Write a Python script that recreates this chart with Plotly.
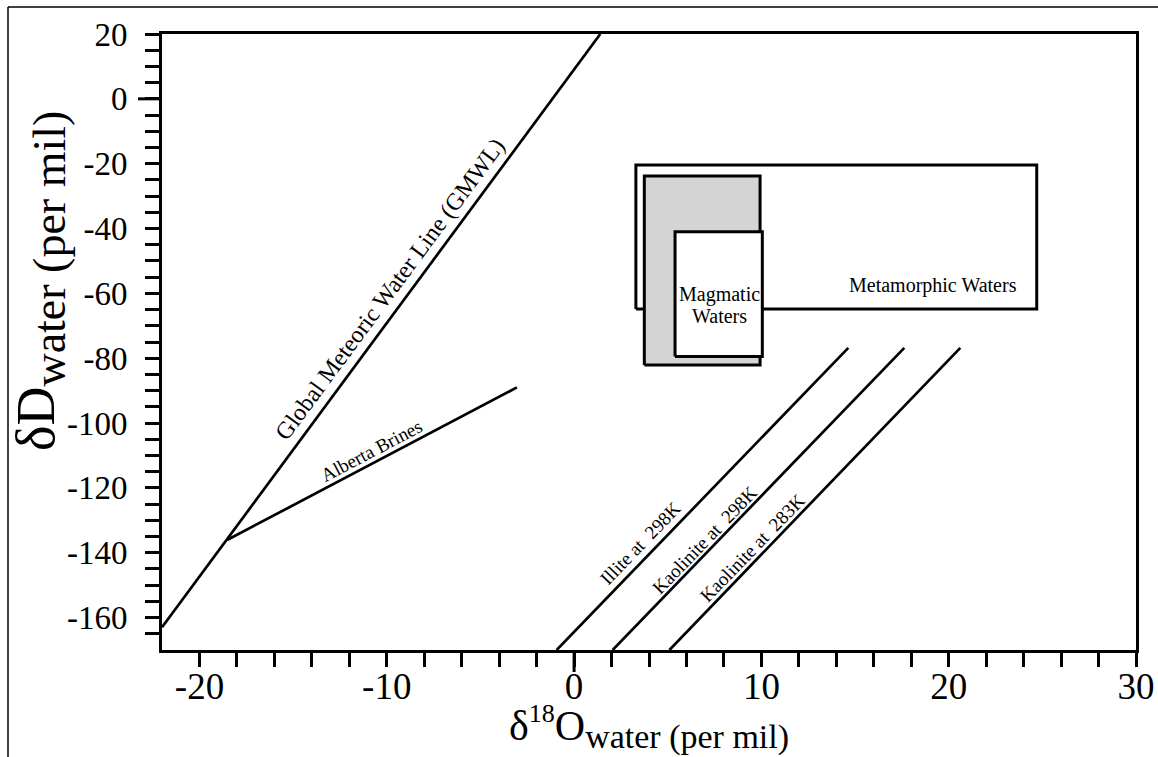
import plotly.graph_objects as go

FONT = "Liberation Serif"

# ---- data (per mil) ----
gmwl_x = [-22.0, 1.4]
gmwl_y = [-163.0, 20.0]
alberta_x = [-18.5, -3.05]
alberta_y = [-136.0, -89.0]
illite_x = [-0.93, 14.64]
illite_y = [-170.0, -76.8]
kaol298_x = [2.06, 17.63]
kaol298_y = [-170.0, -76.8]
kaol283_x = [5.09, 20.62]
kaol283_y = [-170.0, -76.8]

metamorphic_x = [3.3, 24.7]
metamorphic_y = [-64.8, -20.4]
magmatic_outer_x = [3.75, 9.93]
magmatic_outer_y = [-82.1, -23.8]
magmatic_inner_x = [5.39, 10.05]
magmatic_inner_y = [-79.5, -41.0]

x_ticks = [-20, -10, 0, 10, 20, 30]
x_ticklabels = ["-20", "-10", "0", "10", "20", "30"]
x_minor = [v for v in range(-20, 31, 2) if v % 10 != 0]
y_ticks = [-160, -140, -120, -100, -80, -60, -40, -20, 0, 20]
y_ticklabels = ["-160", "-140", "-120", "-100", "-80", "-60", "-40", "-20", "0", "20"]
y_minor = [v for v in range(-165, 20, 5) if v % 20 != 0]

x_range = [-22, 30]
y_range = [-170, 20]

# label positions / angles
labels = [
    ("Global Meteoric Water Line (GMWL)", -9.83, -58.7, -53.5, 24),
    ("Alberta Brines", -10.79, -108.6, -27.7, 19),
    ("Illite at  298K", 3.52, -137.0, -46.0, 19),
    ("Kaolinite at  298K", 6.94, -136.1, -46.0, 19),
    ("Kaolinite at  283K", 9.55, -138.5, -46.0, 19),
    ("Metamorphic Waters", 19.14, -57.7, 0, 20),
    ("Magmatic", 7.74, -60.5, 0, 20),
    ("Waters", 7.74, -66.9, 0, 20),
]


def rect(xr, yr):
    return [xr[0], xr[1], xr[1], xr[0], xr[0]], [yr[0], yr[0], yr[1], yr[1], yr[0]]


fig = go.Figure()

for xr, yr, fc in [(metamorphic_x, metamorphic_y, "white"),
                   (magmatic_outer_x, magmatic_outer_y, "#d4d4d4"),
                   (magmatic_inner_x, magmatic_inner_y, "white")]:
    px, py = rect(xr, yr)
    fig.add_trace(go.Scatter(x=px, y=py, mode="lines", fill="toself", fillcolor=fc,
                             line=dict(color="black", width=3), hoverinfo="skip"))

for lx, ly in [(gmwl_x, gmwl_y), (alberta_x, alberta_y), (illite_x, illite_y),
               (kaol298_x, kaol298_y), (kaol283_x, kaol283_y)]:
    fig.add_trace(go.Scatter(x=lx, y=ly, mode="lines",
                             line=dict(color="black", width=2.7), hoverinfo="skip"))

for text, x, y, ang, size in labels:
    fig.add_annotation(x=x, y=y, xref="x", yref="y", text=text, textangle=ang,
                       showarrow=False, xanchor="center", yanchor="middle",
                       font=dict(family=FONT, size=size, color="black"))

W, H = 1158, 757
ML, MR, MT, MB = 162, 22, 34, 107
PW, PH = W - ML - MR, H - MT - MB

# axis titles
fig.add_annotation(xref="paper", yref="paper", x=(649 - ML) / PW, y=1 - (727 - MT) / PH,
                   text='δ<sup><span style="font-size:26px">18</span></sup>O'
                        '<sub><span style="font-size:34px">water (per mil)</span></sub>',
                   showarrow=False, xanchor="center", yanchor="middle",
                   font=dict(family=FONT, size=42, color="black"))
fig.add_annotation(xref="paper", yref="paper", x=(40 - ML) / PW, y=1 - (281 - MT) / PH,
                   text='δD<sub><span style="font-size:46px">water (per mil)</span></sub>',
                   textangle=-90, showarrow=False, xanchor="center", yanchor="middle",
                   font=dict(family=FONT, size=54, color="black"))

shapes = [
    # longer zero ticks
    dict(type="line", xref="x", yref="paper", x0=0, x1=0, y0=0, y1=-22 / PH,
         line=dict(color="black", width=3)),
    dict(type="line", xref="paper", yref="y", x0=0, x1=-24 / PW, y0=0, y1=0,
         line=dict(color="black", width=3)),
    # outer frame (left and top)
    dict(type="line", xref="paper", yref="paper", x0=(8 - ML) / PW, x1=(8 - ML) / PW,
         y0=1 - (H + 5 - MT) / PH, y1=1 + (MT - 7) / PH, line=dict(color="black", width=1.5)),
    dict(type="line", xref="paper", yref="paper", x0=(8 - ML) / PW, x1=(W + 5 - ML) / PW,
         y0=1 + (MT - 7) / PH, y1=1 + (MT - 7) / PH, line=dict(color="black", width=1.5)),
]

fig.update_layout(
    width=W, height=H, margin=dict(l=ML, r=MR, t=MT, b=MB, autoexpand=False),
    paper_bgcolor="white", plot_bgcolor="white", showlegend=False,
    shapes=shapes,
    xaxis=dict(range=x_range, showline=True, linewidth=3, linecolor="black", mirror=True,
               ticks="outside", ticklen=14, tickwidth=3, tickcolor="black", automargin=False,
               tickvals=x_ticks, ticktext=x_ticklabels, showgrid=False, zeroline=False,
               tickfont=dict(family=FONT, size=37, color="black"), ticklabelstandoff=-12,
               minor=dict(tickvals=x_minor, ticks="outside", ticklen=14, tickwidth=3,
                          tickcolor="black", showgrid=False)),
    yaxis=dict(range=y_range, showline=True, linewidth=3, linecolor="black", mirror=True,
               ticks="outside", ticklen=14, tickwidth=3, tickcolor="black", automargin=False,
               tickvals=y_ticks, ticktext=y_ticklabels, showgrid=False, zeroline=False,
               tickfont=dict(family=FONT, size=33, color="black"), ticklabelstandoff=11,
               minor=dict(tickvals=y_minor, ticks="outside", ticklen=14, tickwidth=3,
                          tickcolor="black", showgrid=False)),
)

fig.write_html("out.html", config={"displayModeBar": False},
               post_script="document.body.style.margin='0px';"
                           "document.body.style.overflow='hidden';")
